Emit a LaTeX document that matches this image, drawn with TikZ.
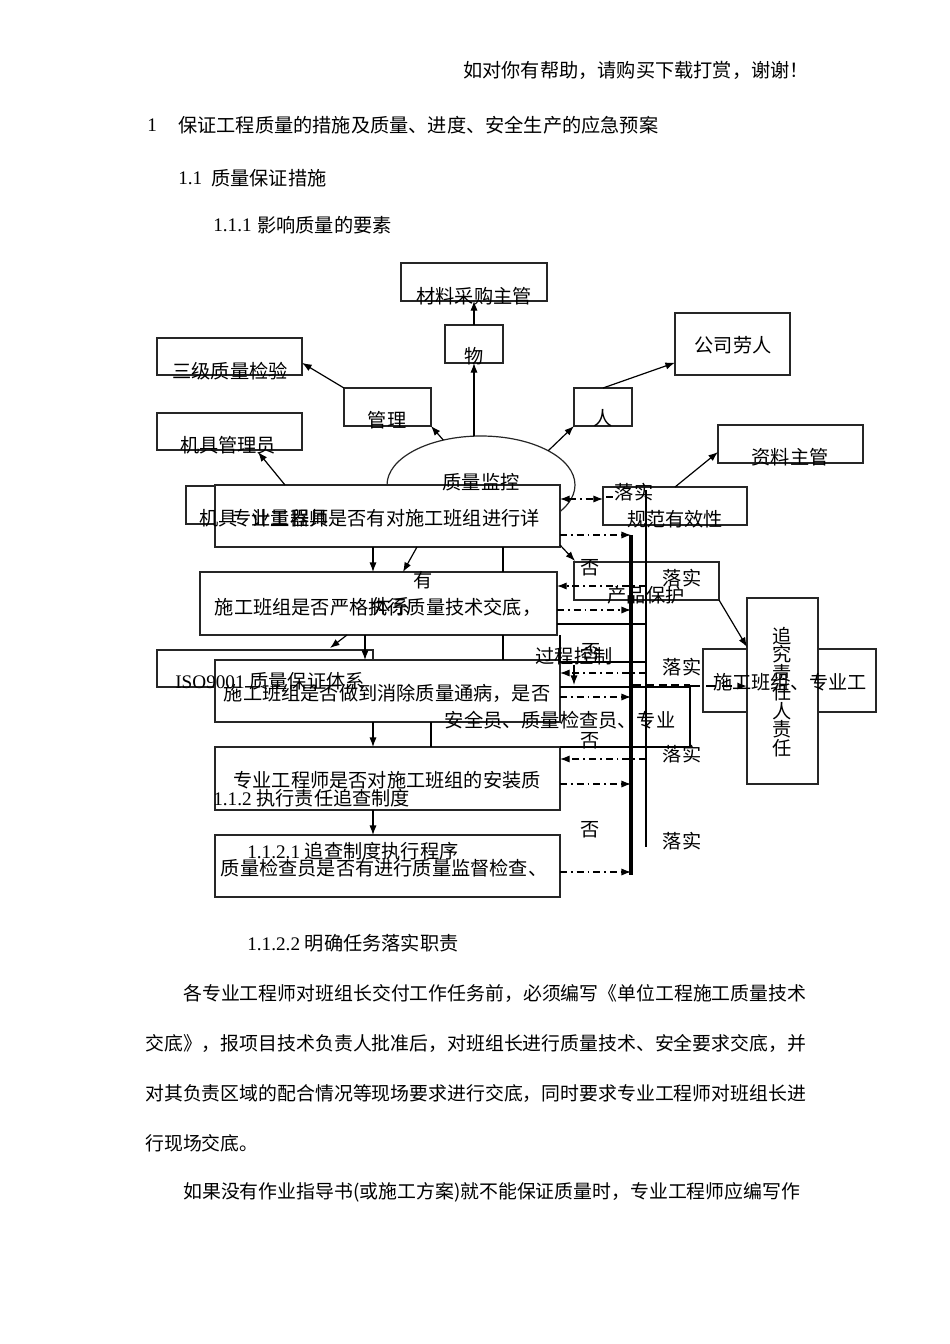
\documentclass[tikz,border=0pt]{standalone}
\usepackage{fontspec}
\setmainfont{Liberation Serif}
\newfontfamily\cjk{Noto Sans CJK SC}
\usetikzlibrary{shapes.geometric,arrows.meta,calc}
\newcommand\fsz{\fontsize{12pt}{14pt}\selectfont}
\newcommand\bsz{\fontsize{11.8pt}{14pt}\selectfont}
\newcommand\mybox[6]{\node[bx,#6,anchor=north west,minimum width={(#4-#2)*0.625pt},minimum height={(#5-#3)*0.625pt}] (#1) at (#2,#3) {};}
\begin{document}
\begin{tikzpicture}[x=0.625pt,y=-0.625pt,
  bx/.style={draw=black!85, line width=0.75pt, inner sep=0pt, outer sep=0pt},
  ar/.style={-{Latex[length=6pt,width=4.5pt]}, line width=0.75pt},
  dar/.style={{Latex[length=6pt,width=4.5pt]}-{Latex[length=6pt,width=4.5pt]}, line width=0.75pt},
  dd/.style={line width=0.75pt, dash pattern=on 4.4pt off 2.4pt on 1.2pt off 2.4pt},
  thk/.style={line width=1.9pt},
  ln/.style={line width=0.75pt},
  tx/.style={inner sep=0pt, font=\cjk\fsz},
  btx/.style={inner sep=0pt, font=\cjk\bsz, anchor=west},
  rm/.style={inner sep=0pt, font=\rmfamily\fsz}]
\fill[white] (0,0) rectangle (950,1344);
\useasboundingbox (0,0) rectangle (950,1344);

% ---------- headings ----------
\node[tx,anchor=west] (h0) at (463,70) {如对你有帮助，请购买下载打赏，谢谢！};
\node[rm,anchor=west] (h1n) at (147,125) {1};
\node[tx,anchor=west] (h1) at (178,125) {保证工程质量的措施及质量、进度、安全生产的应急预案};
\node[rm,anchor=west] (h2n) at (178,178) {1.1};
\node[tx,anchor=west] (h2) at (211,178) {质量保证措施};
\node[rm,anchor=west] (h3n) at (213,225) {1.1.1};
\node[tx,anchor=west] (h3) at (257,225) {影响质量的要素};

% ---------- coordinates of the two buses ----------
\coordinate (busR) at (631,0);
\coordinate (busL) at (646,0);

% ---------- top boxes ----------
\mybox{cailiao}{401}{263}{547}{301}{}
\mybox{wu}{445}{325}{503}{363}{}
\mybox{sanji}{157}{338}{302}{375}{}
\mybox{guanli}{344}{388}{431}{426}{}
\mybox{jiju}{157}{413}{302}{450}{}
\mybox{ren}{574}{388}{632}{426}{}
\mybox{gongsi}{675}{313}{790}{375}{}
\mybox{ziliao}{718}{425}{863}{463}{}
\mybox{guifan}{603}{487}{747}{525}{}
\mybox{chanpin}{574}{562}{719}{600}{}

\node[bx,ellipse,minimum width=117.5pt,minimum height=61.25pt] (ell) at (481,485) {};
\mybox{jiliang}{186}{486}{330}{524}{}

% ---------- main column ----------
\mybox{boxA}{215}{485}{560}{547}{fill=white}
\mybox{boxB}{200}{572}{557}{635}{fill=white,line width=1.1pt}
\mybox{iso}{157}{650}{373}{687}{}
\mybox{boxC}{215}{660}{560}{722}{fill=white}
\mybox{boxD}{215}{747}{560}{810}{}
\mybox{boxE}{215}{835}{560}{897}{}

% ---------- right boxes ----------
\mybox{shigong}{703}{649}{876}{712}{}
\mybox{zhuijiu}{747}{598}{818}{784}{fill=white}

% ---------- upper connectors ----------
\draw[ar] (ell.north -| wu.south) -- (wu.south);
\draw[ar] (wu.north) -- (cailiao.south);
\draw[ar] (ell.130) -- (guanli.south east);
\draw[ar] (guanli.north west) -- (sanji.-5);
\draw[ar] ($(boxA.north west)+(70,0)$) -- ($(jiju.south west)+(101,2)$);
\draw[ar] (ell.27) -- (ren.south west);
\draw[ar] (ren.north) -- (gongsi.198);
\draw[ar] (guifan.north) -- ($(ziliao.south west)+(0,-11)$);
\draw[dar,dd] ($(boxA.north east)+(0,14)$) -- ($(guifan.north west)+(0,12)$);
\draw[ln] ($(guifan.north west)+(3,10)$) -- ($(guifan.north west)+(10,10)$);

% ---------- buses ----------
\draw[thk] (busR |- 0,535) -- (busR |- 0,875);
\draw[ln] ($(busL |- guifan.north)+(0,3)$) -- (busL |- 0,847);

% ---------- main column connectors ----------
\draw[ar] ($(boxA.south west)+(158,0)$) -- ($(boxB.north west)+(173,0)$);
\draw[ar] ($(boxA.south west)+(202,0)$) -- ($(boxB.north west)+(203,0)$);
\draw[ln] ($(boxA.south west)+(288,0)$) -- ($(boxB.north west)+(303,0)$);
\draw[ar] ($(boxB.south west)+(165,0)$) -- ($(boxC.north west)+(150,0)$);
\draw[ar] ($(boxB.south west)+(147,0)$) -- ($(iso.north west)+(173,-2)$);
\draw[ln] ($(boxB.south west)+(303,0)$) -- ($(boxC.north west)+(288,0)$);
\draw[ar] ($(boxC.south west)+(158,0)$) -- ($(boxD.north west)+(158,0)$);
\draw[ln] ($(boxC.south west)+(216,0)$) -- ($(boxD.north west)+(216,0)$);
\draw[ar] ($(boxD.south west)+(158,0)$) -- ($(boxE.north west)+(158,0)$);

% ---------- right side connectors ----------
\draw[dd,ar] (boxA.east |- 0,535) -- (busR |- 0,535);
\draw[ar] ($(boxA.south east)+(0,-2)$) -- ($(chanpin.north west)+(1,-1)$);
\draw[dd,ar] (busL |- 0,586) -- (boxB.east |- 0,586);
\draw[dd,ar] (boxB.east |- 0,610) -- (busR |- 0,610);
\draw[ln] (boxB.east |- 0,624) -- (busL |- 0,624);
\draw[ar] (chanpin.south east) -- ($(zhuijiu.north west)+(0,49)$);
\draw[ln] (boxC.east |- boxB.south) -- (boxC.east |- 0,662) -- (busL |- 0,662);
\draw[ar] (574,665) -- (574,685);
\draw[dd,ar] (busL |- 0,673) -- (boxC.east |- 0,673);
\coordinate (kink) at (690,687);
\draw[line width=1.3pt] (boxC.east |- kink) -- (kink) -- (kink |- boxD.north);
\draw[ln] (boxD.north east) -- (kink |- boxD.north);
\draw[line width=1.1pt,dash pattern=on 5pt off 3pt] ($(busR |- kink)+(2,-2)$) -- ($(kink)+(0,-2)$);
\draw[ar,line width=1pt,dash pattern=on 6pt off 4pt] ($(kink)+(0,-1)$) -- (zhuijiu.west |- 0,686);
\draw[dd,ar] (boxC.east |- 0,697) -- (busR |- 0,697);
\draw[dd,ar] (busL |- 0,759) -- (boxD.east |- 0,759);
\draw[dd,ar] (boxD.east |- 0,784) -- (busR |- 0,784);
\draw[dd,ar] (boxE.east |- 0,872) -- (busR |- 0,872);

% ---------- texts ----------
\node[tx] (t1) at (474,296) {材料采购主管};
\node[tx] (t2) at (474,356) {物};
\node[tx] (t3) at (230,371) {三级质量检验};
\node[tx] (t4) at (387,420) {管理};
\node[tx] (t5) at (228,445) {机具管理员};
\node[tx] (t6) at (603,418) {人};
\node[tx] (t7) at (733,345) {公司劳人};
\node[tx] (t8) at (790,457) {资料主管};
\node[tx] (t9) at (481,482) {质量监控};
\node[tx] (t10) at (634,492) {落实};
\node[tx] (t11) at (675,519) {规范有效性};
\node[tx,anchor=west] (t12) at (199,518) {机具};
\node[tx] (t13) at (290,518) {计量器具};
\node[tx] (t14) at (386,518) {专业工程师是否有对施工班组进行详};
\node[tx] (t15) at (378,607) {施工班组是否严格执行质量技术交底，};
\node[tx] (t16) at (423,580) {有};
\node[tx] (t17) at (391,606) {体系};
\node[tx] (t18) at (590,568) {否};
\node[tx] (t19) at (682,578) {落实};
\node[tx] (t20) at (646,595) {产品保护};
\node[tx] (t21) at (574,656) {过程控制};
\node[tx] (t22) at (591,652) {否};
\node[tx] (t23) at (682,667) {落实};
\node[inner sep=0pt,anchor=west,font=\fsz] (t24) at (175,681) {\rmfamily ISO9001 {\cjk 质量保证体系}};
\node[tx] (t25) at (387,693) {施工班组是否做到消除质量通病，是否};
\node[tx] (t26) at (560,720) {安全员、质量检查员、专业};
\node[tx] (t27) at (590,741) {否};
\node[tx] (t28) at (682,754) {落实};
\node[inner sep=0pt,align=center,font={\cjk\fontsize{12pt}{11.7pt}\selectfont\lineskiplimit=-20pt\lineskip=0pt}] (t29) at (782,692) {追\\究\\责\\任\\人\\责\\任};
\node[tx] (t30) at (790,682) {施工班组、专业工};
\node[tx] (t31) at (387,780) {专业工程师是否对施工班组的安装质};
\node[inner sep=0pt,anchor=west,font=\fsz] (t32) at (213,798) {\rmfamily 1.1.2 {\cjk 执行责任追查制度}};
\node[tx] (t33) at (590,830) {否};
\node[tx] (t34) at (682,841) {落实};
\node[inner sep=0pt,anchor=west,font=\fsz] (t35) at (247,851) {\rmfamily 1.1.2.1 {\cjk 追查制度执行程序}};
\node[tx] (t36) at (384,868) {质量检查员是否有进行质量监督检查、};

% ---------- body ----------
\node[inner sep=0pt,anchor=west,font=\fsz] (b0) at (247,943) {\rmfamily 1.1.2.2 {\cjk 明确任务落实职责}};
\node[btx] (b1) at (183,993) {各专业工程师对班组长交付工作任务前，必须编写《单位工程施工质量技术};
\node[btx] (b2) at (145,1043) {交底》，报项目技术负责人批准后，对班组长进行质量技术、安全要求交底，并};
\node[btx] (b3) at (145,1093) {对其负责区域的配合情况等现场要求进行交底，同时要求专业工程师对班组长进};
\node[btx] (b4) at (145,1143) {行现场交底。};
\node[btx] (b5) at (183,1192) {如果没有作业指导书(或施工方案)就不能保证质量时，专业工程师应编写作};
\end{tikzpicture}
\end{document}
